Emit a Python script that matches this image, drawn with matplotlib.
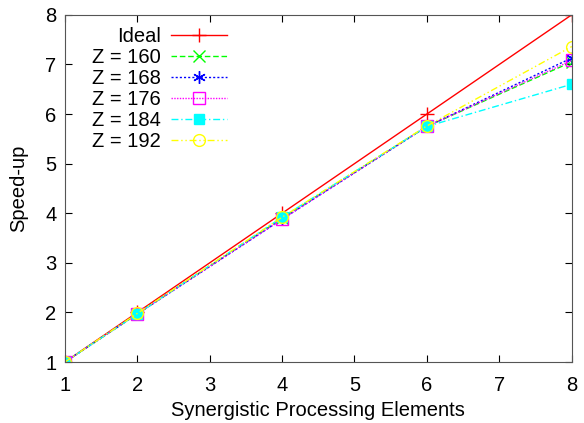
import matplotlib
matplotlib.use("Agg")
import matplotlib.pyplot as plt

spe = [1, 2, 4, 6, 8]
ideal = [1, 2, 4, 6, 8]
z160 = [1, 1.97, 3.90, 5.75, 7.05]
z168 = [1, 1.97, 3.88, 5.75, 7.13]
z176 = [1, 1.97, 3.88, 5.75, 7.08]
z184 = [1, 1.97, 3.92, 5.75, 6.60]
z192 = [1, 1.98, 3.92, 5.76, 7.36]
labels = ["Ideal", "Z = 160", "Z = 168", "Z = 176", "Z = 184", "Z = 192"]
xticks = [1, 2, 3, 4, 5, 6, 7, 8]
yticks = [1, 2, 3, 4, 5, 6, 7, 8]

plt.rcParams['font.family'] = ['Liberation Sans', 'DejaVu Sans']
fig = plt.figure(figsize=(5.84, 4.23), dpi=100)
ax = fig.add_axes([0.111, 0.144, 0.868, 0.821])

series = [ideal, z160, z168, z176, z184, z192]
styles = [
    dict(color='#ff0000', ls='-', marker='+', ms=10, mfc='none'),
    dict(color='#00ff00', ls=(0, (4, 2)), marker='x', ms=8, mfc='none'),
    dict(color='#0000ff', ls=(0, (1.5, 1.5)), marker=(6, 2, 0), ms=9, mfc='none'),
    dict(color='#ff00ff', ls=(0, (1, 1)), marker='s', ms=8, mfc='none'),
    dict(color='#00ffff', ls=(0, (5, 2, 1, 2)), marker='s', ms=7.5, mfc='#00ffff'),
    dict(color='#ffff00', ls=(0, (5, 2, 1, 2, 1, 2)), marker='o', ms=8.5, mfc='none'),
]
for y, lab, st in zip(series, labels, styles):
    ax.plot(spe, y, label=lab, lw=1.0, mew=1.0, **st)

ax.set_xlim(1, 8)
ax.set_ylim(1, 8)
ax.set_xticks(xticks)
ax.set_yticks(yticks)
ax.tick_params(direction='in', top=True, right=True, labelsize=14.5, length=5)
ax.tick_params(axis='x', pad=10)
ax.tick_params(axis='y', pad=6)
for s in ax.spines.values():
    s.set_color('#555555')
ax.set_xlabel("Synergistic Processing Elements", fontsize=14.5, labelpad=4)
ax.set_ylabel("Speed-up", fontsize=14.5, labelpad=12)

leg = ax.legend(loc='upper left', markerfirst=False, frameon=False, fontsize=14.5,
                handlelength=2.8, handletextpad=0.5, labelspacing=0.1,
                borderaxespad=0.0, bbox_to_anchor=(0.038, 0.988))
for t in leg.get_texts():
    t.set_ha('right')
    t.set_position((0, 0))
fig.savefig("out.png", dpi=100)
